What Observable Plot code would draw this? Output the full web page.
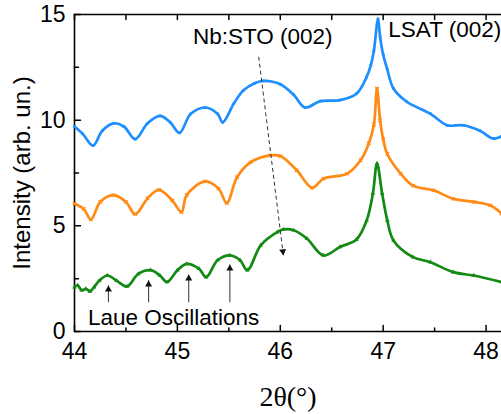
<!DOCTYPE html>
<html>
<head>
<meta charset="utf-8">
<script src="https://cdn.jsdelivr.net/npm/d3@7"></script>
<script src="https://cdn.jsdelivr.net/npm/@observablehq/plot@0.6"></script>
<style>
  html, body { margin: 0; padding: 0; background: #fff; }
  #chart svg { display: block; }
</style>
</head>
<body>
<div id="chart"></div>
<script>
// ---- data ----
const xBlue = [44.0, 44.08, 44.18, 44.27, 44.38, 44.48, 44.59, 44.71, 44.83, 44.93, 45.02, 45.13, 45.27, 45.39, 45.44, 45.55, 45.64, 45.75, 45.84, 46.0, 46.13, 46.24, 46.39, 46.58, 46.74, 46.84, 46.88, 46.91, 46.95, 46.97, 47.0, 47.04, 47.10, 47.23, 47.46, 47.62, 47.78, 47.94, 48.07, 48.15];
const yBlue = [9.7, 9.35, 8.8, 9.5, 9.85, 9.7, 9.1, 9.85, 10.2, 9.9, 9.4, 10.3, 10.6, 10.3, 9.9, 10.8, 11.4, 11.75, 11.86, 11.7, 11.2, 10.6, 10.9, 10.95, 11.25, 12.05, 12.6, 13.3, 14.8, 13.95, 13.1, 12.4, 11.5, 10.87, 10.3, 9.76, 9.76, 9.5, 9.13, 9.24];

const xOrange = [44.0, 44.09, 44.16, 44.25, 44.38, 44.50, 44.59, 44.71, 44.82, 44.95, 45.04, 45.09, 45.27, 45.40, 45.48, 45.58, 45.71, 45.90, 46.0, 46.16, 46.31, 46.42, 46.65, 46.78, 46.86, 46.91, 46.94, 46.97, 47.0, 47.04, 47.17, 47.29, 47.49, 47.68, 47.88, 48.04, 48.15];
const yOrange = [6.05, 5.8, 5.3, 6.13, 6.45, 6.13, 5.55, 6.3, 6.7, 6.2, 5.65, 6.45, 7.1, 6.76, 6.08, 7.3, 8.0, 8.33, 8.3, 7.63, 6.8, 7.23, 7.47, 8.1, 8.9, 9.8, 11.5, 10.0, 9.1, 8.4, 7.47, 6.9, 6.68, 6.28, 6.13, 5.97, 5.58];

const xGreen = [44.0, 44.03, 44.07, 44.11, 44.15, 44.19, 44.24, 44.32, 44.41, 44.51, 44.62, 44.74, 44.83, 44.90, 45.0, 45.09, 45.21, 45.28, 45.39, 45.51, 45.61, 45.68, 45.81, 45.97, 46.03, 46.13, 46.26, 46.42, 46.58, 46.74, 46.84, 46.90, 46.94, 46.99, 47.04, 47.10, 47.29, 47.46, 47.68, 47.88, 48.15];
const yGreen = [2.1, 2.18, 1.95, 2.02, 1.9, 2.1, 2.4, 2.65, 2.4, 2.13, 2.73, 2.9, 2.65, 2.34, 2.9, 3.2, 2.97, 2.57, 3.37, 3.6, 3.37, 2.9, 4.08, 4.7, 4.83, 4.79, 4.39, 3.6, 4.0, 4.35, 5.26, 6.53, 7.95, 6.53, 5.26, 4.31, 3.52, 3.28, 2.81, 2.65, 2.34];

const xTickLabels = [44, 45, 46, 47, 48];
const xMinorTicks = [44.5, 45.5, 46.5, 47.5];
const yTickLabels = [0, 5, 10, 15];
const yMinorTicks = [2.5, 7.5, 12.5];

// annotations
const laueX = [44.33, 44.72, 45.11, 45.51];
const laueTipY = [2.18, 2.42, 2.7, 3.17];
const laueBaseY = 1.39;
const stoArrow = {x1: 45.79, y1: 13.0, x2: 46.03, y2: 3.6};
const labels = [
  {text: "Nb:STO (002)", x: 45.83, y: 13.93, anchor: "middle"},
  {text: "LSAT (002)", x: 47.05, y: 14.27, anchor: "start"},
  {text: "Laue Oscillations", x: 44.13, y: 0.64, anchor: "start"}
];

const colors = {blue: "#1E8FFF", orange: "#FF8A14", green: "#138A13"};

const series = (xs, ys) => xs.map((x, i) => ({x, y: ys[i]}));
const blue = series(xBlue, yBlue);
const orange = series(xOrange, yOrange);
const green = series(xGreen, yGreen);
const laue = laueX.map((x, i) => ({x, tip: laueTipY[i], base: laueBaseY}));

const tickShape = {draw(ctx, l) { ctx.moveTo(0, 0); ctx.lineTo(0, -l); }};
const tickOpts = {anchor: "start", shape: tickShape, stroke: "#000", strokeWidth: 1.5};

const chart = Plot.plot({
  width: 501,
  height: 414,
  marginLeft: 74,
  marginRight: 0,
  marginTop: 14,
  marginBottom: 83,
  style: {fontFamily: "'Liberation Sans', Arial, sans-serif", background: "#fff", color: "#000"},
  x: {domain: [44, 48.15]},
  y: {domain: [0, 15]},
  marks: [
    Plot.axisX({ticks: xTickLabels, tickSize: 0, tickPadding: 11, fontSize: 23, label: null, tickFormat: d => d}),
    Plot.axisY({ticks: yTickLabels, tickSize: 0, tickPadding: 9, fontSize: 23, label: null, tickFormat: d => d}),
    // frame
    Plot.ruleX([44], {stroke: "#000", strokeWidth: 1.6}),
    Plot.ruleY([0, 15], {stroke: "#000", strokeWidth: 1.6}),
    // inward ticks
    Plot.vector(xTickLabels, {x: d => d, y: 0, length: 6, rotate: 0, ...tickOpts}),
    Plot.vector(xMinorTicks, {x: d => d, y: 0, length: 3.5, rotate: 0, ...tickOpts}),
    Plot.vector(xTickLabels.concat(xMinorTicks), {x: d => d, y: 15, length: 5, rotate: 180, ...tickOpts}),
    Plot.vector(yTickLabels, {x: 44, y: d => d, length: 6, rotate: 90, ...tickOpts}),
    Plot.vector(yMinorTicks, {x: 44, y: d => d, length: 4, rotate: 90, ...tickOpts}),
    // series
    Plot.line(blue, {x: "x", y: "y", stroke: colors.blue, strokeWidth: 2.7, curve: "catmull-rom"}),
    Plot.dot(blue, {x: "x", y: "y", symbol: "square", r: 1.5, fill: colors.blue}),
    Plot.line(orange, {x: "x", y: "y", stroke: colors.orange, strokeWidth: 2.7, curve: "catmull-rom"}),
    Plot.dot(orange, {x: "x", y: "y", symbol: "times", r: 1.7, stroke: colors.orange, strokeWidth: 1.2}),
    Plot.line(green, {x: "x", y: "y", stroke: colors.green, strokeWidth: 2.7, curve: "catmull-rom"}),
    Plot.dot(green, {x: "x", y: "y", symbol: "triangle", r: 1.7, fill: colors.green}),
    // Laue arrows
    Plot.link(laue, {x1: "x", x2: "x", y1: "base", y2: "tip", stroke: "#444", strokeWidth: 1.1}),
    Plot.dot(laue, {x: "x", y: "tip", symbol: "triangle", r: 2.6, fill: "#111", dy: 4}),
    // Nb:STO dashed arrow
    Plot.link([stoArrow], {x1: "x1", y1: "y1", x2: "x2", y2: "y2", stroke: "#333", strokeWidth: 1, strokeDasharray: "4,3"}),
    Plot.dot([stoArrow], {x: "x2", y: "y2", symbol: "triangle", r: 2.6, fill: "#111", rotate: 173, dx: -0.5, dy: -4}),
    // text labels
    Plot.text(labels.filter(d => d.anchor === "middle"), {x: "x", y: "y", text: "text", textAnchor: "middle", lineAnchor: "middle", fontSize: 22.5, fill: "#000"}),
    Plot.text(labels.filter(d => d.anchor === "start"), {x: "x", y: "y", text: "text", textAnchor: "start", lineAnchor: "middle", fontSize: 22.5, fill: "#000"}),
    // axis titles
    Plot.text(["Intensity (arb. un.)"], {frameAnchor: "left", rotate: -90, dx: -52, textAnchor: "middle", lineAnchor: "middle", fontSize: 24, fill: "#000"}),
    Plot.text(["2θ(°)"], {frameAnchor: "bottom", dy: 66, textAnchor: "middle", lineAnchor: "middle", fontSize: 28, fontFamily: "'Liberation Serif', 'Times New Roman', serif", fill: "#000"})
  ]
});
document.getElementById("chart").appendChild(chart);
</script>
</body>
</html>
